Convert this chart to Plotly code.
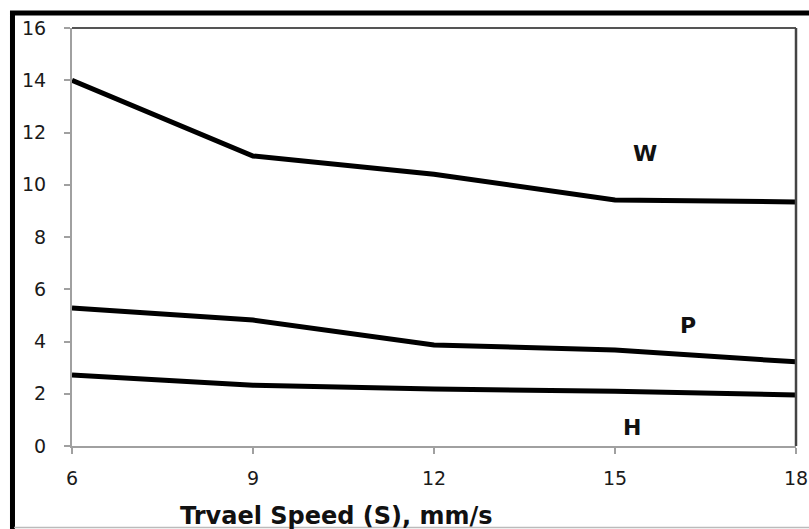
import plotly.graph_objects as go

speed = [6, 9, 12, 15, 18]
W = [14.0, 11.1, 10.4, 9.42, 9.34]
P = [5.28, 4.82, 3.87, 3.67, 3.22]
H = [2.72, 2.33, 2.18, 2.10, 1.95]

labels = ["W", "P", "H"]
label_x = [15.5, 16.21, 15.28]
label_y = [11.2, 4.63, 0.69]

x_ticks = [6, 9, 12, 15, 18]
y_ticks = [0, 2, 4, 6, 8, 10, 12, 14, 16]

fig = go.Figure()
for s in (W, P, H):
    fig.add_trace(go.Scatter(x=speed, y=s, mode="lines",
                             line=dict(color="black", width=5),
                             showlegend=False, hoverinfo="skip"))

for t, lx, ly in zip(labels, label_x, label_y):
    fig.add_annotation(x=lx, y=ly, text="<b>" + t + "</b>", showarrow=False,
                       font=dict(family="DejaVu Sans", size=22, color="#111"))

fig.add_annotation(xref="paper", yref="paper", x=0.365, y=-0.167,
                   xanchor="center", yanchor="middle",
                   text="<b>Trvael Speed (S), mm/s</b>", showarrow=False,
                   font=dict(family="DejaVu Sans", size=24, color="#111"))

# plot area top/right frame
fig.add_shape(type="line", xref="paper", yref="paper", x0=0, x1=1, y0=1, y1=1,
              line=dict(color="#555", width=2))
fig.add_shape(type="line", xref="paper", yref="paper", x0=1, x1=1, y0=0, y1=1,
              line=dict(color="#444", width=2.5))
# outer thick frame
fig.add_shape(type="rect", xref="paper", yref="paper", x0=-0.0822, x1=1.2,
              y0=-0.3, y1=1.036, line=dict(color="black", width=5), layer="below")
fig.add_shape(type="line", xref="paper", yref="paper", x0=-0.08, x1=1.2,
              y0=-0.195, y1=-0.195, line=dict(color="#bbb", width=1.5))

fig.update_layout(
    width=809, height=529,
    margin=dict(l=72, r=13, t=28, b=83, autoexpand=False),
    paper_bgcolor="white", plot_bgcolor="white",
    font=dict(family="DejaVu Sans", size=19, color="#1a1a1a"),
    xaxis=dict(range=[6, 18], tickvals=x_ticks, showgrid=False, zeroline=False,
               showline=True, linecolor="#a0a0a0", linewidth=2, automargin=False,
               ticks="outside", ticklen=6, tickcolor="#a0a0a0", tickwidth=2,
               ticklabelstandoff=8),
    yaxis=dict(range=[0, 16], tickvals=y_ticks, showgrid=False, zeroline=False,
               showline=True, linecolor="#a0a0a0", linewidth=2, automargin=False,
               ticks="outside", ticklen=6, tickcolor="#a0a0a0", tickwidth=2,
               ticklabelstandoff=14),
)

fig.write_html("out.html")
